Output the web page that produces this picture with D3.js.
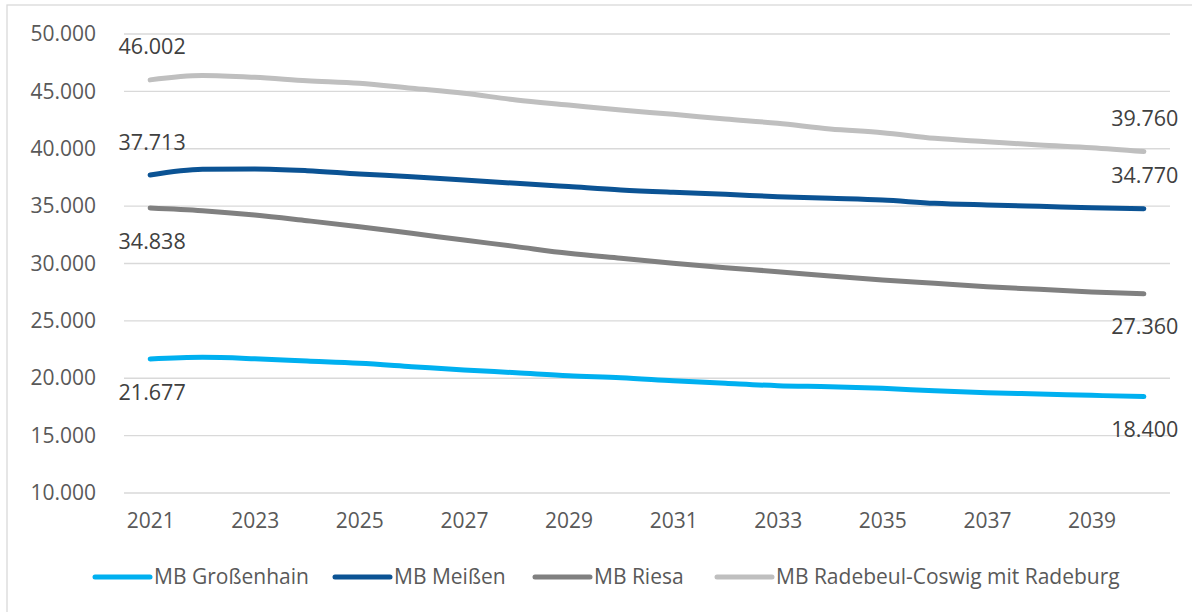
<!DOCTYPE html>
<html><head><meta charset="utf-8">
<script src="https://cdn.jsdelivr.net/npm/d3@7"></script>
<style>body{margin:0;background:#fff}svg{display:block}text{font-family:"Open Sans",sans-serif}</style>
</head><body>
<svg id="c" width="1192" height="612"></svg>
<script>
const years = d3.range(2021, 2041);
const tickYears = [2021,2023,2025,2027,2029,2031,2033,2035,2037,2039];
const yTicks = [10000,15000,20000,25000,30000,35000,40000,45000,50000];
const seriesNames = ["MB Großenhain","MB Meißen","MB Riesa","MB Radebeul-Coswig mit Radeburg"];
const seriesColors = ["#00B0F0","#0B5394","#808080","#BFBFBF"];
const grossenhain = [21677,21820,21700,21500,21300,21010,20720,20480,20220,20050,19790,19560,19350,19260,19120,18910,18740,18630,18510,18400];
const meissen = [37713,38209,38235,38087,37800,37570,37276,36990,36700,36405,36200,36030,35820,35680,35533,35245,35100,34983,34863,34770];
const riesa = [34838,34600,34226,33730,33210,32630,32050,31470,30890,30450,30020,29630,29290,28910,28560,28270,27980,27750,27515,27360];
const radebeul = [46002,46383,46226,45930,45700,45268,44832,44250,43812,43377,43000,42592,42218,41720,41400,40910,40615,40326,40090,39760];
const seriesValues = [grossenhain, meissen, riesa, radebeul];
// label placement: -1 above, +1 below (first, last)
const labelPos = [[1,1],[-1,-1],[1,1],[-1,-1]];
const fmt = v => d3.format(",")(v).replace(/,/g,".");

const svg = d3.select("#c");
svg.append("rect").attr("x",7).attr("y",5).attr("width",1200).attr("height",620)
  .attr("fill","#fff").attr("stroke","#D9D9D9").attr("stroke-width",1.3);

const x = d3.scalePoint().domain(years).range([124,1170]).padding(0.5);
const y = d3.scaleLinear().domain([10000,50000]).range([493,34]);

// gridlines
svg.append("g").selectAll("line").data(yTicks).join("line")
  .attr("x1",124).attr("x2",1170).attr("y1",d=>y(d)).attr("y2",d=>y(d))
  .attr("stroke","#D9D9D9").attr("stroke-width",1.3);

// y axis labels
const yAxis = d3.axisLeft(y).tickValues(yTicks).tickFormat(fmt).tickSize(0).tickPadding(0);
const gy = svg.append("g").attr("transform","translate(96,0)").call(yAxis);
gy.select(".domain").remove();
gy.selectAll("text").attr("font-size",21).attr("fill","#595959").attr("font-family","Open Sans");

// x axis labels
const xAxis = d3.axisBottom(x).tickValues(tickYears).tickSize(0).tickPadding(0);
const gx = svg.append("g").attr("transform","translate(0,513)").call(xAxis);
gx.select(".domain").remove();
gx.selectAll("text").attr("font-size",21).attr("fill","#595959").attr("font-family","Open Sans");

const line = d3.line().x((d,i)=>x(years[i])).y(d=>y(d)).curve(d3.curveMonotoneX);
svg.append("g").selectAll("path").data(seriesValues).join("path")
  .attr("d",line).attr("fill","none")
  .attr("stroke",(d,i)=>seriesColors[i]).attr("stroke-width",5)
  .attr("stroke-linecap","round").attr("stroke-linejoin","round");

// data labels
const lg = svg.append("g");
seriesValues.forEach((vals,i)=>{
  [0, vals.length-1].forEach((idx,k)=>{
    const dir = labelPos[i][k];
    lg.append("text").attr("x",x(years[idx])+(k===1?1:2)).attr("y",y(vals[idx])+dir*33)
      .attr("dy","0.35em").attr("text-anchor","middle").attr("font-size",21.5)
      .attr("fill","#404040").text(fmt(vals[idx]));
  });
});

// legend
const legX = [95,335,535,717];
const leg = svg.append("g");
seriesNames.forEach((n,i)=>{
  leg.append("line").attr("x1",legX[i]).attr("x2",legX[i]+55).attr("y1",577).attr("y2",577)
    .attr("stroke",seriesColors[i]).attr("stroke-width",5).attr("stroke-linecap","round");
  leg.append("text").attr("x",legX[i]+59).attr("y",577).attr("dy","0.35em")
    .attr("font-size",21).attr("fill","#595959").text(n);
});
</script>
</body></html>
